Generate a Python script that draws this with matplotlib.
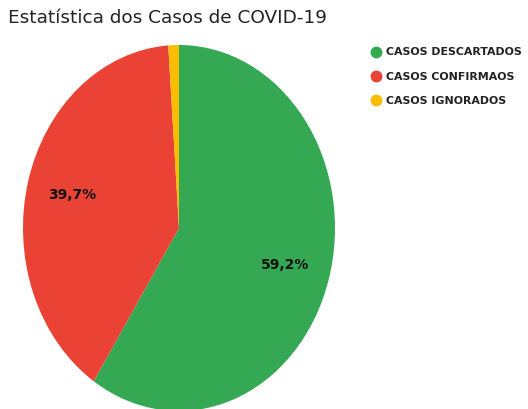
import matplotlib
matplotlib.use("Agg")
import matplotlib.pyplot as plt
from matplotlib.lines import Line2D

categories = ["CASOS DESCARTADOS", "CASOS CONFIRMAOS", "CASOS IGNORADOS"]
values = [59.2, 39.7, 1.1]
colors = ["#34a853", "#ea4335", "#fbbc04"]
title = "Estatística dos Casos de COVID-19"

W, H = 528, 409
fig = plt.figure(figsize=(W / 100, H / 100), dpi=100)

# ellipse bbox in pixels: x 23..335, y 45..410 (from top)
x0, x1, yt, yb = 23, 335, 45, 411
ax = fig.add_axes([x0 / W, 1 - yb / H, (x1 - x0) / W, (yb - yt) / H])


def fmt(p):
    if p < 3:
        return ""
    return f"{p:.1f}%".replace(".", ",")


wedges, texts, autotexts = ax.pie(
    values, colors=colors, startangle=90, counterclock=False,
    autopct=fmt, pctdistance=0.71,
    wedgeprops=dict(linewidth=0),
    textprops=dict(fontsize=10, fontweight="bold", color="#111111"),
)
ax.set_aspect("auto")
ax.set_xlim(-1, 1)
ax.set_ylim(-1, 1)
ax.axis("off")

fig.text(8 / W, 1 - 18 / H, title, fontsize=13.3, color="#222222",
         ha="left", va="center")

handles = [Line2D([0], [0], marker="o", linestyle="none", markersize=7.5,
                  markerfacecolor=c, markeredgecolor=c) for c in colors]
fig.legend(handles, categories, loc="upper left",
           bbox_to_anchor=(366 / W, 1 - 43 / H), frameon=False,
           prop=dict(size=7.9, weight="bold"), labelcolor="#222222",
           handletextpad=0.45, labelspacing=1.3, borderaxespad=0,
           handlelength=1.0)

fig.savefig("out.png", dpi=100)
